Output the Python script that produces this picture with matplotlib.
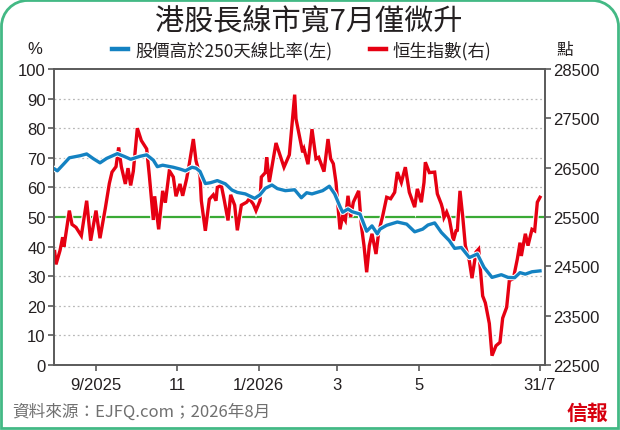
import matplotlib
matplotlib.use("Agg")
import matplotlib.pyplot as plt
import matplotlib.patheffects as pe
from matplotlib.path import Path
from matplotlib.patches import PathPatch
from matplotlib.lines import Line2D
import pandas as pd

plt.rcParams['font.family'] = ['Noto Sans CJK TC', 'DejaVu Sans']

# -- data --
# % of stocks above 250-day MA (left axis)
breadth_dates = [
    '2025-08-01', '2025-08-03', '2025-08-09', '2025-08-12', '2025-08-20', '2025-08-25', '2025-08-30',
    '2025-09-04', '2025-09-09', '2025-09-14', '2025-09-17', '2025-09-22', '2025-09-27',
    '2025-10-04', '2025-10-09', '2025-10-14', '2025-10-17', '2025-10-21', '2025-10-29',
    '2025-11-03', '2025-11-07', '2025-11-12', '2025-11-15', '2025-11-18', '2025-11-22', '2025-11-26',
    '2025-12-01', '2025-12-07', '2025-12-12', '2025-12-16', '2025-12-22', '2025-12-29',
    '2026-01-02', '2026-01-06', '2026-01-11', '2026-01-15', '2026-01-21', '2026-01-28',
    '2026-02-02', '2026-02-06', '2026-02-10', '2026-02-18', '2026-02-23', '2026-02-27',
    '2026-03-03', '2026-03-05', '2026-03-09', '2026-03-12', '2026-03-18', '2026-03-23', '2026-03-27', '2026-03-31',
    '2026-04-02', '2026-04-07', '2026-04-15', '2026-04-22', '2026-04-28',
    '2026-05-04', '2026-05-08', '2026-05-13', '2026-05-18', '2026-05-24', '2026-05-28',
    '2026-06-02', '2026-06-08', '2026-06-14', '2026-06-19', '2026-06-25',
    '2026-07-02', '2026-07-07', '2026-07-12', '2026-07-16', '2026-07-20', '2026-07-25', '2026-07-31',
]
breadth_pct = [
    66.2, 65.6, 68.5, 70.0, 70.7, 71.3, 69.7,
    68.3, 69.8, 70.8, 71.4, 70.5, 69.5,
    70.5, 71.0, 69.2, 67.0, 67.5, 66.8,
    66.2, 65.6, 66.8, 66.5, 65.4, 61.3, 61.6,
    62.3, 61.2, 59.1, 58.3, 57.8, 56.3,
    57.5, 59.7, 60.8, 59.6, 58.9, 59.2,
    56.5, 58.2, 57.8, 58.9, 60.4, 57.8,
    53.5, 51.6, 52.7, 51.8, 51.0, 45.2, 47.0, 44.3,
    45.9, 47.2, 48.3, 47.6, 45.0,
    45.9, 47.3, 48.0, 44.8, 42.0, 39.4,
    39.7, 36.3, 37.5, 33.0, 29.6,
    30.5, 29.6, 29.5, 31.2, 30.7, 31.5, 31.8,
]

# Hang Seng Index (right axis)
hsi_dates = [
    '2025-08-01', '2025-08-02', '2025-08-05', '2025-08-07', '2025-08-08', '2025-08-12', '2025-08-14',
    '2025-08-17', '2025-08-21', '2025-08-25', '2025-08-28',
    '2025-09-01', '2025-09-04', '2025-09-08', '2025-09-11', '2025-09-13', '2025-09-16', '2025-09-18',
    '2025-09-20', '2025-09-23', '2025-09-25', '2025-09-27', '2025-09-29',
    '2025-10-02', '2025-10-05', '2025-10-09', '2025-10-11', '2025-10-14', '2025-10-15', '2025-10-18',
    '2025-10-21', '2025-10-23', '2025-10-26', '2025-10-29', '2025-10-31',
    '2025-11-03', '2025-11-05', '2025-11-08', '2025-11-10', '2025-11-13', '2025-11-15', '2025-11-18',
    '2025-11-19', '2025-11-22', '2025-11-25', '2025-11-28', '2025-11-30',
    '2025-12-01', '2025-12-04', '2025-12-06', '2025-12-09', '2025-12-11', '2025-12-14', '2025-12-16',
    '2025-12-19', '2025-12-23', '2025-12-25', '2025-12-28', '2025-12-30',
    '2026-01-02', '2026-01-03', '2026-01-06', '2026-01-07', '2026-01-09', '2026-01-14', '2026-01-20',
    '2026-01-24', '2026-01-28', '2026-01-29',
    '2026-02-01', '2026-02-03', '2026-02-04', '2026-02-07', '2026-02-10', '2026-02-13', '2026-02-15',
    '2026-02-19', '2026-02-22', '2026-02-24', '2026-02-26', '2026-02-28',
    '2026-03-01', '2026-03-03', '2026-03-05', '2026-03-07', '2026-03-09', '2026-03-11', '2026-03-13',
    '2026-03-17', '2026-03-19', '2026-03-21', '2026-03-23', '2026-03-25', '2026-03-27', '2026-03-30',
    '2026-04-01', '2026-04-04', '2026-04-07', '2026-04-10', '2026-04-13', '2026-04-15', '2026-04-18',
    '2026-04-21', '2026-04-24', '2026-04-28', '2026-04-30',
    '2026-05-03', '2026-05-05', '2026-05-06', '2026-05-09', '2026-05-13', '2026-05-15', '2026-05-18',
    '2026-05-19', '2026-05-20', '2026-05-22', '2026-05-24', '2026-05-27', '2026-05-29', '2026-05-30',
    '2026-06-01', '2026-06-03', '2026-06-05', '2026-06-08', '2026-06-10', '2026-06-13', '2026-06-15',
    '2026-06-18', '2026-06-20', '2026-06-23', '2026-06-25', '2026-06-28',
    '2026-07-01', '2026-07-03', '2026-07-06', '2026-07-08', '2026-07-11', '2026-07-14', '2026-07-16',
    '2026-07-17', '2026-07-20', '2026-07-22', '2026-07-25', '2026-07-27', '2026-07-29', '2026-07-31',
]
hsi_pts = [
    24800, 24540, 24820, 25090, 24900, 25630, 25350,
    25290, 25120, 25830, 25020,
    25630, 25070, 25680, 26180, 26410, 26520, 26910,
    26520, 26170, 26490, 26140, 26430,
    27300, 27050, 26880, 26340, 25440, 25920, 25250,
    26030, 25790, 26440, 26310, 25920,
    26170, 25930, 26280, 26580, 27080, 26640, 26340,
    25830, 25220, 25860, 25950, 25830,
    26100, 26140, 25870, 25430, 25950, 25740, 25230,
    25740, 25800, 25870, 25760, 25630,
    25830, 26310, 26400, 26710, 26210, 27000, 26510,
    26760, 27980, 27490,
    27080, 26810, 26880, 26570, 27280, 26680, 26710,
    26420, 27080, 26680, 26580, 26200,
    25870, 25250, 25520, 25430, 25930, 25500, 25800,
    26030, 25330, 24920, 24380, 24920, 25160, 24750,
    25190, 25520, 25900, 25870, 26000, 26410, 26200,
    26510, 26000, 25700, 26070,
    25800, 26200, 26610, 26400, 26410, 25970, 25760,
    25660, 25490, 25600, 25460, 25020, 25220, 25230,
    26030, 25520, 24920, 24610, 24260, 24790, 24850,
    23900, 23760, 23340, 22690, 22890,
    22960, 23450, 23670, 24210, 24250, 24650, 24980,
    24710, 25160, 24920, 25250, 25220, 25800, 25900,
]

tick_dates = ['2025-09-01', '2025-11-01', '2026-01-01', '2026-03-01', '2026-05-01', '2026-07-31']
tick_labels = ['9/2025', '11', '1/2026', '3', '5', '31/7']
left_ticks = list(range(0, 101, 10))
right_ticks = list(range(22500, 28501, 1000))

BLUE = '#1482c2'
RED = '#e60012'
GREEN = '#3aaa35'
SPINE = '#5a5a5a'
TXT = '#231f20'
NUM = ['Liberation Sans', 'DejaVu Sans']

bd = pd.to_datetime(breadth_dates)
hd = pd.to_datetime(hsi_dates)

fig = plt.figure(figsize=(6.2, 4.31), dpi=100)
W, H = 620, 431

# green frame, rounded top corners
r, k = 26, 0.5523
x0, x1, y0, y1 = 1.5, W - 1.5, 1.5, H - 1.5
verts = [(x0, y0), (x0, y1 - r),
         (x0, y1 - r + k * r), (x0 + r - k * r, y1), (x0 + r, y1),
         (x1 - r, y1),
         (x1 - r + k * r, y1), (x1, y1 - r + k * r), (x1, y1 - r),
         (x1, y0), (x0, y0)]
codes = [Path.MOVETO, Path.LINETO,
         Path.CURVE4, Path.CURVE4, Path.CURVE4,
         Path.LINETO,
         Path.CURVE4, Path.CURVE4, Path.CURVE4,
         Path.LINETO, Path.CLOSEPOLY]
verts = [(vx / W, vy / H) for vx, vy in verts]
fig.patches.append(PathPatch(Path(verts, codes), transform=fig.transFigure,
                             facecolor='none', edgecolor='#43b985', lw=2.0))

rect = [54 / W, 1 - 366 / H, (545 - 54) / W, (366 - 70) / H]
ax = fig.add_axes(rect)
ax.set_ylim(0, 100)
ax.set_xlim(pd.Timestamp('2025-07-31 12:00'), pd.Timestamp('2026-08-03 18:00'))
for t in left_ticks[1:-1]:
    if t == 50:
        continue
    ax.axhline(t, color='#b8b8b8', lw=0.9, ls=(0, (1.5, 2.2)), zorder=0)
ax.axhline(50, color=GREEN, lw=1.6, zorder=1)

ax2 = ax.twinx()
ax2.set_ylim(right_ticks[0], right_ticks[-1])
ax2.plot(hd, hsi_pts, color=RED, lw=2.4, solid_joinstyle='miter',
         path_effects=[pe.Stroke(linewidth=3.9, foreground='white'), pe.Normal()])

ax3 = ax.twinx()
ax3.set_ylim(0, 100)
ax3.plot(bd, breadth_pct, color=BLUE, lw=2.4,
         path_effects=[pe.Stroke(linewidth=3.9, foreground='white'), pe.Normal()])
ax3.axis('off')

for a in (ax, ax2):
    for s in a.spines.values():
        s.set_color(SPINE)
        s.set_linewidth(1.2)

ax.set_yticks(left_ticks)
ax.set_yticklabels([str(t) for t in left_ticks], family=NUM, fontsize=12, color=TXT)
ax2.set_yticks(right_ticks)
ax2.set_yticklabels([str(t) for t in right_ticks], family=NUM, fontsize=12, color=TXT)
ax.set_xticks(pd.to_datetime(tick_dates))
ax.set_xticklabels(tick_labels, family=NUM, fontsize=12, color=TXT)
ax.tick_params(axis='both', direction='out', length=4, width=1.2, color=SPINE, pad=2)
ax2.tick_params(axis='y', direction='out', length=4, width=1.2, color=SPINE, pad=2)
ax.tick_params(axis='x', pad=5)

# titles and labels
fig.text(309 / W, 1 - 21 / H, '港股長線市寬7月僅微升', ha='center', va='center',
         fontsize=21, fontweight='medium', color=TXT)
fig.text(35 / W, 1 - 50 / H, '%', ha='center', va='center', family=NUM, fontsize=12, color=TXT)
fig.text(565 / W, 1 - 50 / H, '點', ha='center', va='center', fontsize=12, color=TXT)

handles = [Line2D([], [], color=BLUE, lw=3.2), Line2D([], [], color=RED, lw=3.2)]
fig.legend(handles, ['股價高於250天線比率(左)', '恒生指數(右)'], loc='center',
           bbox_to_anchor=(302 / W, 1 - 51 / H), ncol=2, frameon=False,
           fontsize=12.5, handlelength=0.9, handletextpad=0.4, columnspacing=2.2,
           labelcolor=TXT)

fig.text(12 / W, 1 - 412 / H, '資料來源：EJFQ.com；2026年8月', ha='left', va='center',
         fontsize=12, color='#707070')
fig.text(587 / W, 1 - 413 / H, '信報', ha='center', va='center', fontsize=15,
         fontweight='bold', color='#d7000f')

fig.savefig('out.png', dpi=100)
